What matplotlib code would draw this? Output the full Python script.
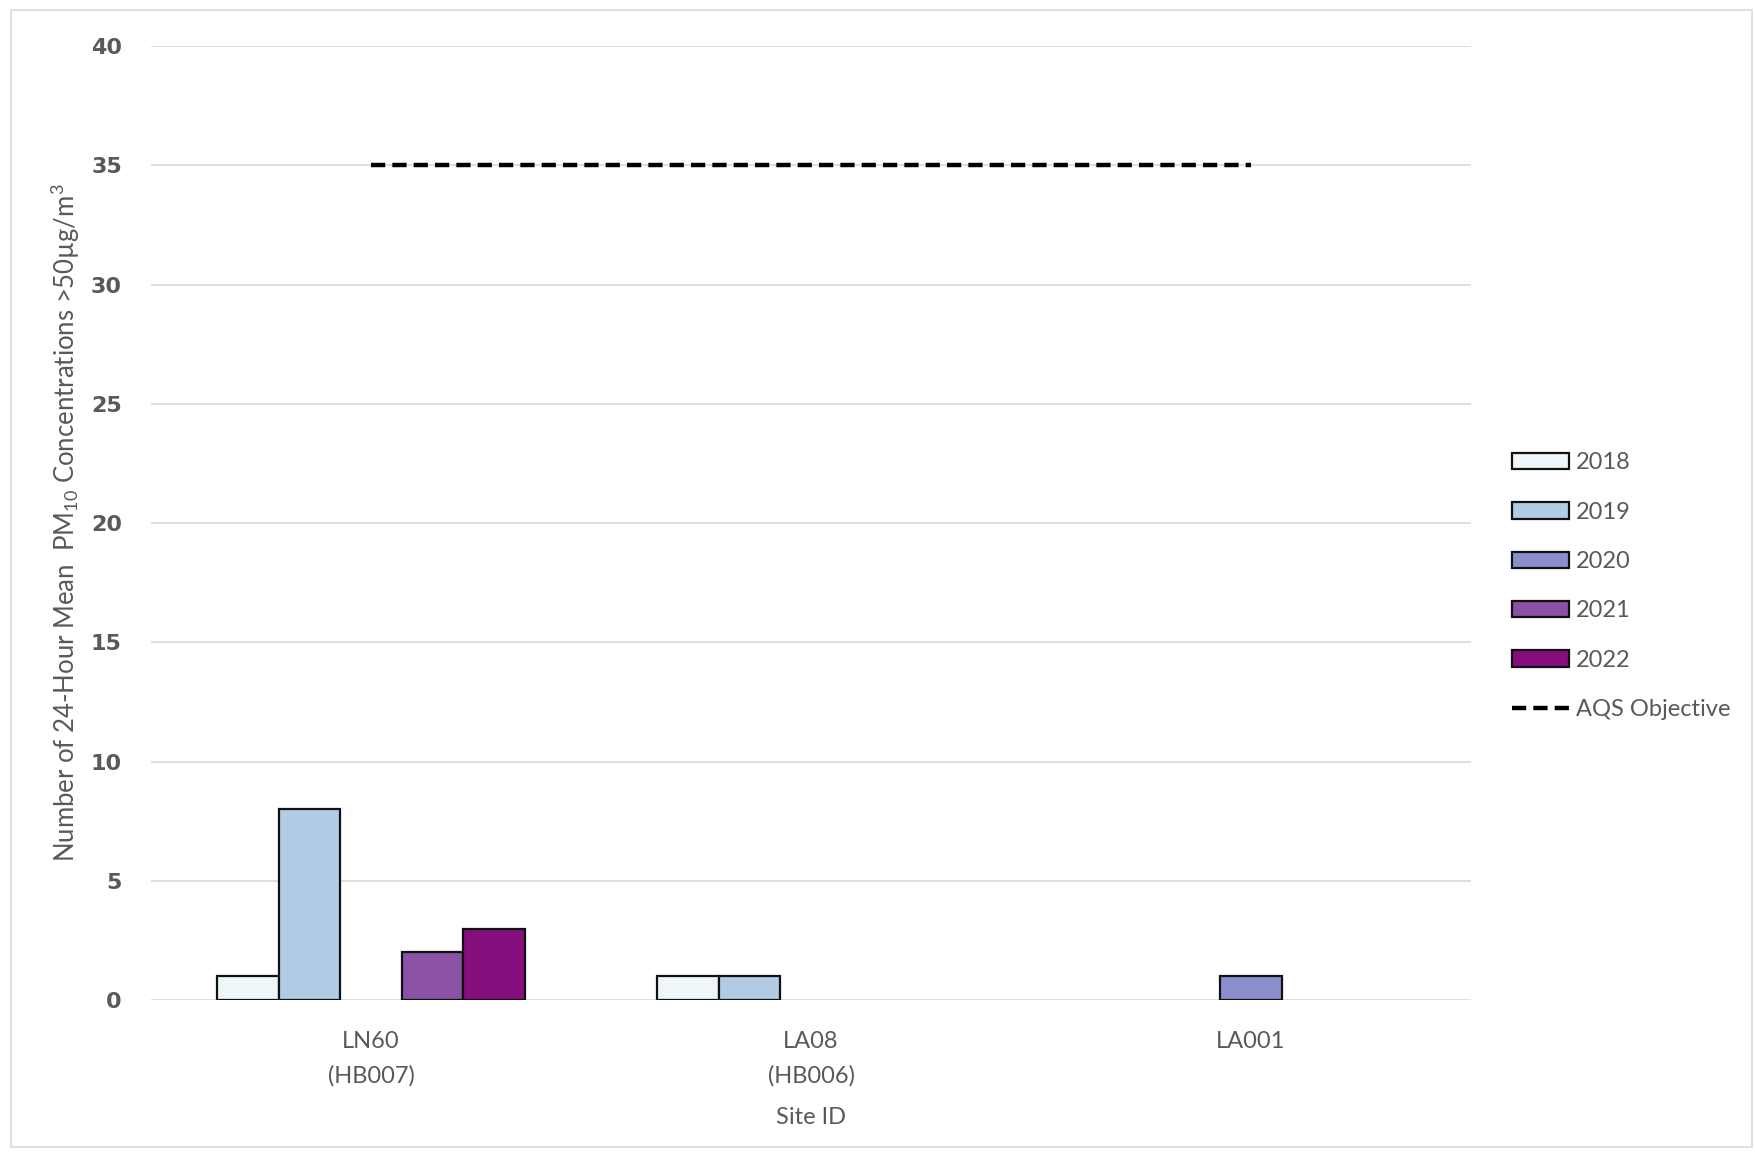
import matplotlib
matplotlib.use("Agg")
import matplotlib.pyplot as plt
import numpy as np
from matplotlib.patches import Rectangle, Patch
from matplotlib.lines import Line2D

sites = ["LN60\n(HB007)", "LA08\n(HB006)", "LA001"]
years = ["2018", "2019", "2020", "2021", "2022"]
v2018 = [1, 1, 0]
v2019 = [8, 1, 0]
v2020 = [0, 0, 1]
v2021 = [2, 0, 0]
v2022 = [3, 0, 0]
aqs = [35, 35, 35]
colors = ["#eef6fa", "#b1cce4", "#8b8fcc", "#8a51a5", "#850f7c"]

plt.rcParams['font.family'] = ['Lato', 'DejaVu Sans']
plt.rcParams['mathtext.fontset'] = 'custom'
plt.rcParams['mathtext.rm'] = 'Lato'
plt.rcParams['mathtext.it'] = 'Lato'

fig = plt.figure(figsize=(17.56, 11.54), dpi=100)
ax = fig.add_axes([0.086, 0.1334, 0.7517, 0.8266])

x = np.arange(len(sites))
w = 0.14
series = [v2018, v2019, v2020, v2021, v2022]
handles = []
for i, (vals, c, lab) in enumerate(zip(series, colors, years)):
    bars = ax.bar(x + (i - 2) * w, vals, width=w, color=c, edgecolor="#111111",
                  linewidth=1.6, label=lab, zorder=3)
    for b in bars:
        if b.get_height() == 0:
            b.set_visible(False)
    handles.append(Patch(facecolor=c, edgecolor="#111111", linewidth=1.6))
ax.plot(x, aqs, linestyle=(0, (3.2, 1.6)), color="black", linewidth=3.2,
        label="AQS Objective", zorder=4)
handles.append(Line2D([], [], linestyle=(0, (3.2, 1.6)), color="black", linewidth=3.2))

ax.set_xlim(-0.5, 2.5)
ax.set_ylim(0, 40)
ax.set_yticks(range(0, 41, 5))
ax.set_xticks(x)
ax.set_xticklabels(sites, fontsize=17, color="#595959", linespacing=1.75)
for t in ax.get_yticklabels():
    t.set_fontfamily('DejaVu Sans')
    t.set_fontweight('bold')
    t.set_fontsize(16)
    t.set_color('#595959')
ax.tick_params(axis='both', length=0)
ax.tick_params(axis='y', pad=21)
ax.tick_params(axis='x', pad=22)
ax.grid(axis='y', color="#d9d9d9", linewidth=1.2, zorder=0)
for s in ax.spines.values():
    s.set_visible(False)
ax.set_xlabel("Site ID", fontsize=17, color="#595959", labelpad=15)
ax.set_ylabel(r"Number of 24-Hour Mean  PM$_{10}$ Concentrations >50µg/m$^{3}$",
              fontsize=18.5, color="#595959", labelpad=6)

fig.legend(handles=handles, labels=years + ["AQS Objective"],
           loc='center left', bbox_to_anchor=(0.849, 0.492), frameon=False,
           fontsize=17, labelcolor="#595959", handlelength=2.4, handleheight=0.7,
           labelspacing=1.2, handletextpad=0.3)

fig.patches.append(Rectangle((0.006, 0.006), 0.992, 0.985, transform=fig.transFigure,
                             fill=False, edgecolor="#d9d9d9", linewidth=1.2))

fig.savefig("out.png", dpi=100)
